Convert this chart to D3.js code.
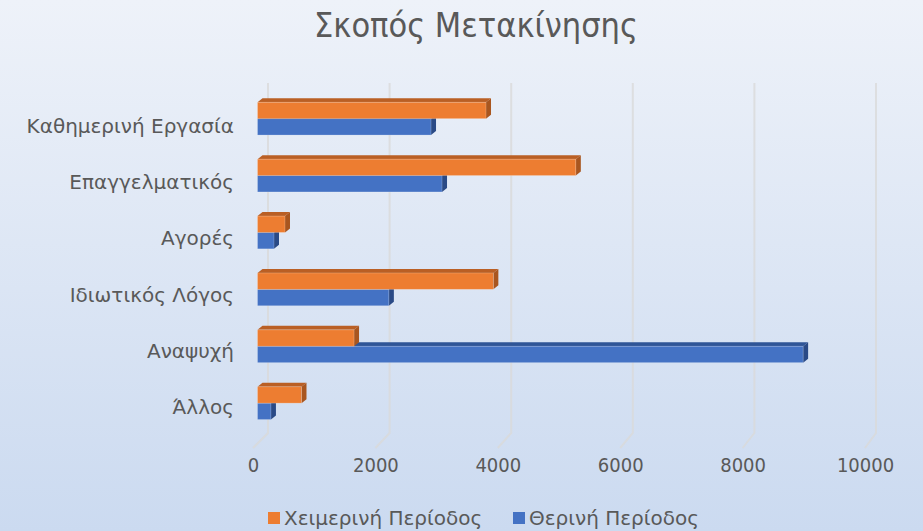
<!DOCTYPE html>
<html>
<head>
<meta charset="utf-8">
<script src="https://cdn.jsdelivr.net/npm/d3@7"></script>
<style>
  body { margin: 0; }
  text { font-family: "DejaVu Sans", sans-serif; fill: #595959; }
</style>
</head>
<body>
<div id="chart"></div>
<script>
// Data
const categories = ["Καθημερινή Εργασία", "Επαγγελματικός", "Αγορές", "Ιδιωτικός Λόγος", "Αναψυχή", "Άλλος"];
const seriesNames = ["Χειμερινή Περίοδος", "Θερινή Περίοδος"];
const winterValues = [3740, 5210, 450, 3860, 1580, 720];
const summerValues = [2840, 3020, 270, 2150, 8930, 220];
const tickValues = [0, 2000, 4000, 6000, 8000, 10000];
const title = "Σκοπός Μετακίνησης";

const colors = {
  "Χειμερινή Περίοδος": { front: "#ED7D31", top: "#BA5F24", side: "#A9561F" },
  "Θερινή Περίοδος": { front: "#4472C4", top: "#2F5597", side: "#2A4A86" },
};

// Dimensions
const dims = { width: 923, height: 531 };
const depth = { dx: 5, dy: -4 };

const svg = d3
  .select("#chart")
  .append("svg")
  .attr("width", dims.width)
  .attr("height", dims.height);

// background gradient
const bg = svg
  .append("defs")
  .append("linearGradient")
  .attr("id", "bg")
  .attr("x1", 0).attr("y1", 0).attr("x2", 0).attr("y2", 1);
bg.append("stop").attr("offset", "0%").attr("stop-color", "#EEF2F9");
bg.append("stop").attr("offset", "100%").attr("stop-color", "#CBDAF0");

svg.append("rect")
  .attr("width", dims.width)
  .attr("height", dims.height)
  .attr("fill", "url(#bg)");

// Scales
const xBar = d3.scaleLinear().domain([0, 10000]).range([257.5, 868.5]);
const xBack = d3.scaleLinear().domain([0, 10000]).range([268, 876]);
const xFront = d3.scaleLinear().domain([0, 10000]).range([253, 865]);

const yBand = d3.scaleBand().domain(categories).range([90.2, 431.6]);
const yLabel = d3.scalePoint().domain(categories).range([126, 407]);
const barsH = 32.8;
const ySeries = d3
  .scaleBand()
  .domain(seriesNames)
  .range([(yBand.step() - barsH) / 2, (yBand.step() + barsH) / 2]);

// Gridlines (back wall + floor edge)
const wallTop = 83, wallBottom = 433, floorFront = 448;
svg.append("g")
  .selectAll("path")
  .data(tickValues)
  .join("path")
  .attr("d", (d) => `M${xBack(d)},${wallTop}L${xBack(d)},${wallBottom}L${xFront(d)},${floorFront}`)
  .attr("fill", "none")
  .attr("stroke", "#D9D9D9")
  .attr("stroke-width", 2)
  .attr("opacity", 0.8);

// Bars
const rows = [];
categories.forEach((c, i) => {
  // summer (lower) first so winter front covers its top face
  rows.push({ cat: c, series: seriesNames[1], value: summerValues[i] });
  rows.push({ cat: c, series: seriesNames[0], value: winterValues[i] });
});

const bars = svg.append("g")
  .selectAll("g")
  .data(rows)
  .join("g");

const h = ySeries.bandwidth();
const x0 = xBar(0);

bars.append("path")
  .attr("d", (d) => {
    const y = yBand(d.cat) + ySeries(d.series);
    const x1 = xBar(d.value);
    return `M${x0},${y}L${x0 + depth.dx},${y + depth.dy}L${x1 + depth.dx},${y + depth.dy}L${x1},${y}Z`;
  })
  .attr("fill", (d) => colors[d.series].top);

bars.append("path")
  .attr("d", (d) => {
    const y = yBand(d.cat) + ySeries(d.series);
    const x1 = xBar(d.value);
    return `M${x1},${y}L${x1 + depth.dx},${y + depth.dy}L${x1 + depth.dx},${y + h + depth.dy}L${x1},${y + h}Z`;
  })
  .attr("fill", (d) => colors[d.series].side);

bars.append("rect")
  .attr("x", x0)
  .attr("y", (d) => yBand(d.cat) + ySeries(d.series))
  .attr("width", (d) => xBar(d.value) - x0)
  .attr("height", h)
  .attr("fill", (d) => colors[d.series].front)
  .attr("stroke", "rgba(255,255,255,0.25)")
  .attr("stroke-width", 0.8);

// Category labels
svg.append("g")
  .selectAll("text")
  .data(categories)
  .join("text")
  .attr("x", 234)
  .attr("y", (d) => yLabel(d))
  .attr("text-anchor", "end")
  .attr("dominant-baseline", "central")
  .style("font-size", "20px")
  .text((d) => d);

// X axis labels
const xAxis = d3.axisBottom(xFront).tickValues(tickValues).tickFormat(d3.format("d")).tickSize(0);
const gX = svg.append("g")
  .attr("transform", `translate(0, ${floorFront})`)
  .call(xAxis);
gX.select(".domain").remove();
gX.selectAll(".tick text")
  .attr("y", 10)
  .attr("dy", "0.71em")
  .style("font-size", "20px")
  .style("font-family", "'DejaVu Sans Condensed', 'DejaVu Sans', sans-serif")
  .style("fill", "#595959");

// Title
svg.append("text")
  .attr("x", 476)
  .attr("y", 25)
  .attr("text-anchor", "middle")
  .attr("dominant-baseline", "central")
  .style("font-family", "'DejaVu Sans Condensed', 'DejaVu Sans', sans-serif")
  .style("font-size", "34px")
  .text(title);

// Legend
const legendItems = [
  { name: seriesNames[0], x: 268 },
  { name: seriesNames[1], x: 513 },
];
const legend = svg.append("g")
  .selectAll("g")
  .data(legendItems)
  .join("g")
  .attr("transform", (d) => `translate(${d.x}, 518)`);
legend.append("rect")
  .attr("x", 0).attr("y", -6)
  .attr("width", 12).attr("height", 12)
  .attr("fill", (d) => colors[d.name].front);
legend.append("text")
  .attr("x", 16)
  .attr("dominant-baseline", "central")
  .style("font-size", "20px")
  .text((d) => d.name);
</script>
</body>
</html>
